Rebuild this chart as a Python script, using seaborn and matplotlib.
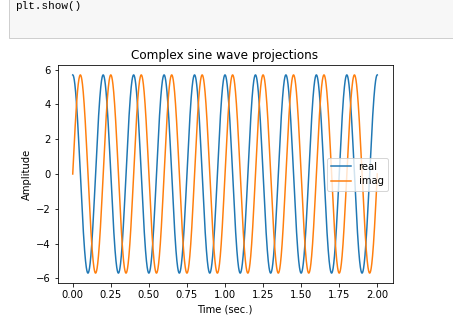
import numpy as np
import pandas as pd
import matplotlib
matplotlib.use("Agg")
import matplotlib.pyplot as plt
from matplotlib.patches import Rectangle
import seaborn as sns

# Signal parameters
amplitude = 5.7        # peak value of both projections
frequency = 5.0        # Hz
srate = 1000           # samples per second
duration = 2.0         # seconds

time = np.arange(0, duration + 1 / srate / 2, 1 / srate)
csw = amplitude * np.exp(1j * 2 * np.pi * frequency * time)

series_labels = ["real", "imag"]
series_colors = ["#1f77b4", "#ff7f0e"]
xticks = [0.00, 0.25, 0.50, 0.75, 1.00, 1.25, 1.50, 1.75, 2.00]
yticks = [-6, -4, -2, 0, 2, 4, 6]

df = pd.DataFrame({"time": time, "real": csw.real, "imag": csw.imag})

W, H, DPI = 453, 331, 72
fig = plt.figure(figsize=(W / DPI, H / DPI), dpi=DPI)
fig.patch.set_facecolor("white")

# notebook code cell above the output
cell = Rectangle((8.5 / W, 1 - 37.5 / H), 1.0, 0.2, transform=fig.transFigure,
                 facecolor="#f7f7f7", edgecolor="#cfcfcf", linewidth=1)
fig.patches.append(cell)
fig.text(15 / W, 1 - 9 / H, "plt.show()", family="Liberation Mono",
         fontsize=11, va="baseline", ha="left", color="#000000")

ax = fig.add_axes([57.5 / W, 1 - 283 / H, 335 / W, 218 / H])
sns.lineplot(data=df, x="time", y="real", ax=ax, color=series_colors[0],
             label=series_labels[0], linewidth=1.5, errorbar=None, sort=False)
sns.lineplot(data=df, x="time", y="imag", ax=ax, color=series_colors[1],
             label=series_labels[1], linewidth=1.5, errorbar=None, sort=False)

ax.set_xticks(xticks)
ax.set_yticks(yticks)
ax.set_xlabel("Time (sec.)")
ax.set_ylabel("Amplitude")
ax.set_title("Complex sine wave projections")
ax.legend(loc="center right")

fig.savefig("out.png", dpi=DPI)
